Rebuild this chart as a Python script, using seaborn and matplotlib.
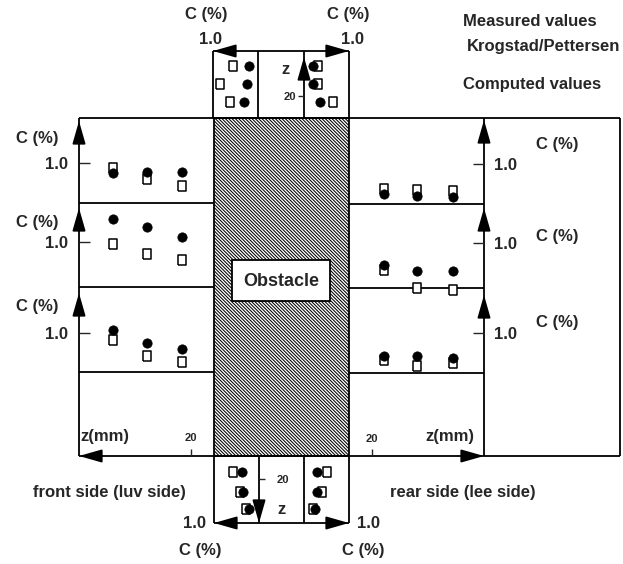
import matplotlib
matplotlib.use("Agg")
import matplotlib.pyplot as plt
from matplotlib.patches import Rectangle
import seaborn as sns

# ---- data (C in %, z in mm) ----
# side profiles, rows are the three panels from top to bottom
z_front = [88, 58, 28]
z_rear = [30, 59, 90]
front_measured = [[0.88, 0.62, 0.46], [0.95, 0.72, 0.58], [0.84, 0.46, 0.32]]
front_computed = [[0.76, 0.79, 0.79], [1.54, 1.35, 1.12], [1.07, 0.76, 0.62]]
rear_measured = [[0.41, 0.39, 0.36], [0.36, -0.06, -0.11], [0.36, 0.22, 0.29]]
rear_computed = [[0.29, 0.25, 0.22], [0.48, 0.34, 0.34], [0.46, 0.46, 0.41]]

# profiles above the obstacle
z_top = [47, 31, 15]
top_left_measured = [0.56, 0.84, 0.62]
top_left_computed = [0.20, 0.24, 0.31]
top_right_measured = [0.31, 0.31, 0.64]
top_right_computed = [0.20, 0.20, 0.36]

# profiles below the obstacle
z_bottom = [14, 31, 46]
bottom_left_measured = [0.58, 0.42, 0.29]
bottom_left_computed = [0.38, 0.36, 0.22]
bottom_right_measured = [0.51, 0.40, 0.20]
bottom_right_computed = [0.29, 0.29, 0.24]

legend_lines = ["Measured values", "Krogstad/Pettersen", "Computed values"]

# ---- layout (pixels) ----
W, H = 623, 564
PX_MM = 1.15
PX_C = 42.5
left_rows = [(118, 203, 163), (203, 287, 242), (287, 372, 333)]
right_rows = [(118, 204, 164), (204, 288, 243), (288, 373, 333)]

sns.set_style("white")
plt.rcParams["font.family"] = ["Liberation Sans", "DejaVu Sans"]
plt.rcParams["font.weight"] = "bold"
plt.rcParams["hatch.linewidth"] = 0.75

fig = plt.figure(figsize=(W / 100, H / 100), dpi=100)
ax0 = fig.add_axes([0, 0, 1, 1])
ax0.set_xlim(0, W)
ax0.set_ylim(H, 0)
ax0.axis("off")

LW = 1.3
SQ = [(-3.4, -4), (3.4, -4), (3.4, 4), (-3.4, 4), (-3.4, -4)]


def px_axes(x0, y0, x1, y1):
    ax = fig.add_axes([x0 / W, 1 - y1 / H, (x1 - x0) / W, (y1 - y0) / H])
    ax.patch.set_visible(False)
    for s in ax.spines.values():
        s.set_visible(False)
    ax.set_xticks([])
    ax.set_yticks([])
    return ax


def points(ax, x, y, measured):
    if measured:
        sns.scatterplot(x=x, y=y, marker=SQ, s=45, color="white", edgecolor="black",
                        linewidth=1.1, ax=ax, clip_on=False, zorder=3)
    else:
        sns.scatterplot(x=x, y=y, marker="o", s=45, color="black", edgecolor="black",
                        linewidth=0.5, ax=ax, clip_on=False, zorder=4)


def line(xs, ys):
    ax0.plot(xs, ys, color="black", lw=LW, solid_capstyle="butt")


def arrow(tip, tail):
    ax0.annotate("", xy=tip, xytext=tail,
                 arrowprops=dict(arrowstyle="-|>,head_length=0.7,head_width=0.2",
                                 color="black", lw=LW, mutation_scale=20,
                                 shrinkA=0, shrinkB=0))


def txt(x, y, s, size=12, ha="center", **kw):
    ax0.text(x, y, s, fontsize=size, ha=ha, va="center", fontweight="bold", **kw)


# ---- frame ----
ax0.add_patch(Rectangle((214, 118), 135, 338, facecolor="white", edgecolor="black",
                        hatch="\\" * 10, lw=LW, zorder=1))
ax0.add_patch(Rectangle((232, 260), 98, 41, facecolor="white", edgecolor="black",
                        lw=LW, zorder=2))
txt(281, 281, "Obstacle", size=13, zorder=3)

line([79, 620], [118, 118])
line([79, 620], [456, 456])
line([79, 79], [118, 456])
line([484, 484], [118, 456])
line([620, 620], [118, 456])
for _, b, _ in left_rows:
    line([79, 214], [b, b])
for _, b, _ in right_rows:
    line([349, 484], [b, b])

# strips above / below the obstacle
line([213, 349], [51, 51])
for x in (213, 258, 304, 349):
    line([x, x], [51, 118])
line([214, 349], [523, 523])
for x in (214, 259, 304, 349):
    line([x, x], [456, 523])

# arrows
for tip in (121, 208, 293):
    arrow((79, tip), (79, tip + 20))
for tip in (120, 208, 295):
    arrow((484, tip), (484, tip + 20))
arrow((79, 456), (99, 456))
arrow((484, 456), (464, 456))
arrow((213, 51), (233, 51))
arrow((349, 51), (329, 51))
arrow((304, 57), (304, 77))
arrow((214, 523), (234, 523))
arrow((349, 523), (329, 523))
arrow((259, 523), (259, 503))

# ---- side panels ----
for i, (t, b, tick) in enumerate(left_rows):
    ax = px_axes(79, t, 214, b)
    ax.set_xlim(135 / PX_MM, 0)
    lo = 1 - (b - tick) / PX_C
    ax.set_ylim(lo, lo + (b - t) / PX_C)
    ax.set_yticks([1.0])
    ax.set_yticklabels(["1.0"])
    ax.tick_params(axis="y", direction="in", length=8, width=1, labelsize=12, pad=8, left=True)
    points(ax, z_front, front_measured[i], True)
    points(ax, z_front, front_computed[i], False)
    txt(37, t + 21 if i == 0 else t + 20, "C (%)")

for i, (t, b, tick) in enumerate(right_rows):
    ax = px_axes(349, t, 484, b)
    ax.set_xlim(0, 135 / PX_MM)
    lo = 1 - (b - tick) / PX_C
    ax.set_ylim(lo, lo + (b - t) / PX_C)
    ax.yaxis.tick_right()
    ax.set_yticks([1.0])
    ax.set_yticklabels(["1.0"])
    ax.tick_params(axis="y", direction="in", length=8, width=1, labelsize=12, pad=7, right=True)
    points(ax, z_rear, rear_measured[i], True)
    points(ax, z_rear, rear_computed[i], False)
    txt(557, t + [27, 33, 35][i], "C (%)")

# z axis ticks at 20 mm
axl = px_axes(79, 372, 214, 456)
axl.set_xlim(135 / PX_MM, 0)
axl.set_xticks([20])
axl.tick_params(axis="x", direction="in", length=5, width=1, labelbottom=False, bottom=True)
axl.text(20, 0.21, "20", transform=axl.get_xaxis_transform(), fontsize=8,
         ha="center", va="center", fontweight="bold")
axr = px_axes(349, 373, 484, 456)
axr.set_xlim(0, 135 / PX_MM)
axr.set_xticks([20])
axr.tick_params(axis="x", direction="in", length=5, width=1, labelbottom=False, bottom=True)
axr.text(20, 0.21, "20", transform=axr.get_xaxis_transform(), fontsize=8,
         ha="center", va="center", fontweight="bold")
txt(80, 436, "z(mm)", ha="left")
txt(425, 436, "z(mm)", ha="left")

# ---- top strip ----
axtl = px_axes(213, 51, 258, 118)
axtl.set_xlim(1.0, 0)
axtl.set_ylim(0, 67 / 1.1)
points(axtl, top_left_measured, z_top, True)
points(axtl, top_left_computed, z_top, False)
axtr = px_axes(304, 51, 349, 118)
axtr.set_xlim(0, 1.0)
axtr.set_ylim(0, 67 / 1.1)
axtr.set_yticks([20])
axtr.tick_params(axis="y", direction="out", length=4.5, width=1, labelsize=8, pad=1, left=True)
points(axtr, top_right_measured, z_top, True)
points(axtr, top_right_computed, z_top, False)
txt(286, 70, "z")
txt(206, 15, "C (%)")
txt(210, 40, "1.0")
txt(348, 15, "C (%)")
txt(353, 40, "1.0")

# ---- bottom strip ----
axbl = px_axes(214, 456, 259, 523)
axbl.set_xlim(1.0, 0)
axbl.set_ylim(67 / 1.15, 0)
axbl.yaxis.tick_right()
axbl.set_yticks([20])
axbl.tick_params(axis="y", direction="out", length=4.5, width=1, labelsize=8, pad=8, right=True)
points(axbl, bottom_left_measured, z_bottom, True)
points(axbl, bottom_left_computed, z_bottom, False)
axbr = px_axes(304, 456, 349, 523)
axbr.set_xlim(0, 1.0)
axbr.set_ylim(67 / 1.15, 0)
points(axbr, bottom_right_measured, z_bottom, True)
points(axbr, bottom_right_computed, z_bottom, False)
txt(281, 510, "z")
txt(194, 523, "1.0")
txt(200, 550, "C (%)")
txt(368, 523, "1.0")
txt(363, 550, "C (%)")

txt(33, 492, "front side (luv side)", ha="left")
txt(390, 492, "rear side (lee side)", ha="left")

# ---- legend text ----
txt(463, 22, legend_lines[0], ha="left")
txt(467, 46, legend_lines[1], ha="left")
txt(463, 85, legend_lines[2], ha="left")

fig.savefig("out.png", dpi=100)
